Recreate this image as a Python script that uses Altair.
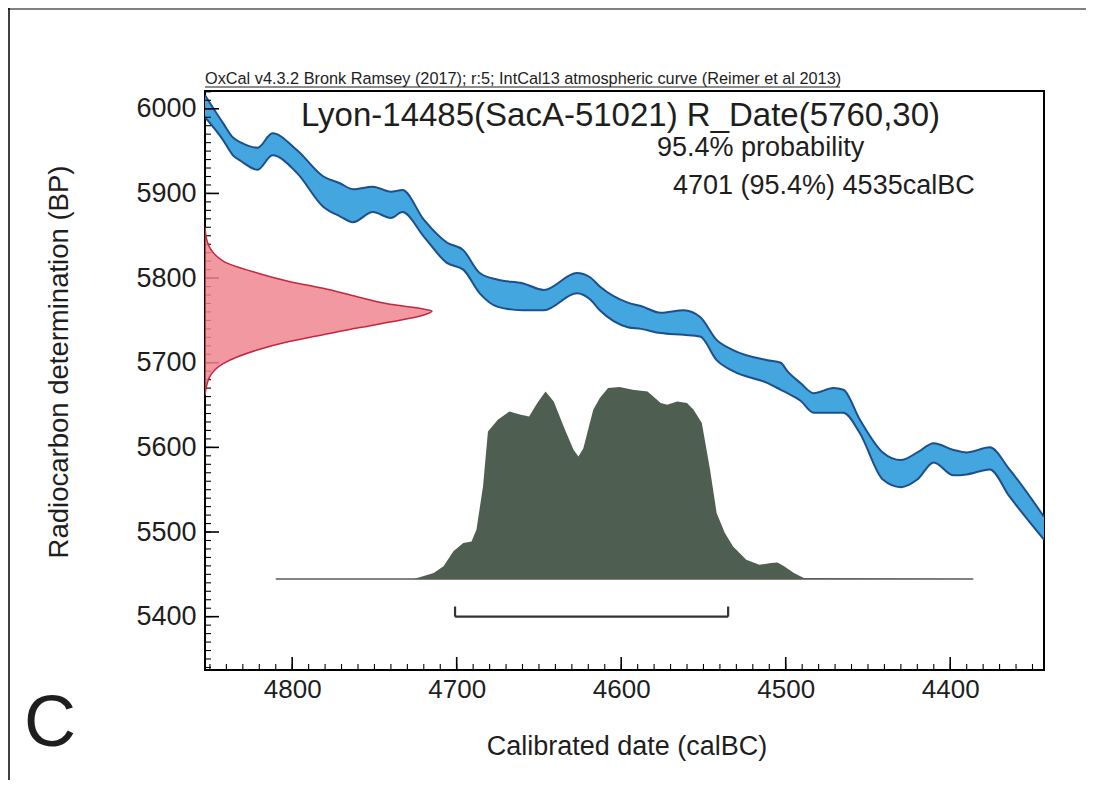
import altair as alt
import pandas as pd

# ---------------- data ----------------
# IntCal13 calibration band (calBC year, upper BP, lower BP)
curve_year = [4853, 4842, 4836, 4831, 4821, 4812, 4797, 4781, 4771, 4763, 4751, 4740, 4733, 4720,
              4706, 4696, 4686, 4675, 4660, 4647, 4627, 4619, 4613, 4596, 4588, 4576, 4562, 4552,
              4542, 4532, 4511, 4503, 4499, 4491, 4483, 4471, 4465, 4455, 4441, 4430, 4420, 4410,
              4398, 4390, 4376, 4364, 4343]
curve_upper = [6016, 5983, 5966, 5960, 5954, 5971, 5951, 5920, 5912, 5905, 5908, 5902, 5904, 5869,
               5842, 5833, 5806, 5798, 5794, 5786, 5806, 5801, 5790, 5771, 5767, 5759, 5762, 5754,
               5727, 5715, 5703, 5700, 5690, 5676, 5664, 5670, 5668, 5633, 5594, 5585, 5594, 5605,
               5597, 5594, 5600, 5574, 5518]
curve_lower = [5990, 5963, 5945, 5938, 5928, 5945, 5924, 5884, 5873, 5866, 5878, 5871, 5878, 5849,
               5818, 5810, 5782, 5766, 5762, 5762, 5782, 5775, 5762, 5742, 5740, 5735, 5733, 5731,
               5703, 5690, 5676, 5668, 5664, 5655, 5641, 5641, 5641, 5617, 5562, 5553, 5562, 5582,
               5567, 5568, 5574, 5542, 5491]

# Radiocarbon determination 5760 +/- 30 BP (relative density)
c14_bp = [5860, 5843, 5820, 5806, 5796, 5788, 5778, 5769, 5764, 5761, 5756, 5748, 5741, 5733,
          5725, 5715, 5699, 5683, 5662]
c14_p = [0.0, 0.01, 0.08, 0.23, 0.37, 0.52, 0.67, 0.815, 0.95, 1.0, 0.96, 0.815, 0.67, 0.52,
         0.37, 0.23, 0.08, 0.02, 0.0]

# Calibrated probability distribution (calBC year, relative density)
post_year = [4810, 4726, 4714, 4708, 4702, 4696, 4691, 4688, 4684, 4681, 4675, 4668, 4661, 4656,
             4651, 4646, 4641, 4635, 4629, 4626, 4623, 4617, 4613, 4608, 4601, 4593, 4584, 4576,
             4572, 4566, 4560, 4556, 4551, 4546, 4542, 4537, 4532, 4524, 4516, 4509, 4505, 4501,
             4495, 4489, 4386]
post_p = [0.0, 0.0, 0.031, 0.066, 0.144, 0.188, 0.196, 0.257, 0.482, 0.769, 0.830, 0.873, 0.856,
          0.847, 0.917, 0.977, 0.925, 0.795, 0.673, 0.639, 0.682, 0.882, 0.943, 0.995, 1.0, 0.986,
          0.977, 0.917, 0.908, 0.925, 0.917, 0.882, 0.8125, 0.569, 0.344, 0.240, 0.170, 0.100,
          0.074, 0.083, 0.086, 0.066, 0.031, 0.005, 0.0]

range_from = [4701]
range_to = [4535]

major_x = [4800, 4700, 4600, 4500, 4400]
minor_x = list(range(4850, 4340, -10))
major_y = [5400, 5500, 5600, 5700, 5800, 5900, 6000]
minor_y = list(range(5340, 6021, 10))

header = "OxCal v4.3.2 Bronk Ramsey (2017); r:5; IntCal13 atmospheric curve (Reimer et al 2013)"
title = "Lyon-14485(SacA-51021) R_Date(5760,30)"
line2 = "95.4% probability"
line3 = "4701 (95.4%) 4535calBC"
x_title = "Calibrated date (calBC)"
y_title = "Radiocarbon determination (BP)"
panel = "C"

# ---------------- layout / style ----------------
W, H = 839, 579
X_LEFT, X_RIGHT = 4853, 4343
Y_BOTTOM, Y_TOP = 5337, 6021
RED_SCALE = 138.0      # years of width for relative density 1
POST_BASE = 5444.5     # BP level of the calibrated distribution baseline
POST_SCALE = 226.7     # BP of height for relative density 1
FONT = "Liberation Sans"
BLUE_FILL = "#43a6df"
BLUE_EDGE = "#1c4f8c"
RED_FILL = "#ef8690"
RED_EDGE = "#c4283f"
POST_FILL = "#4e5e51"
TXT = "#1e1e1e"

xs = alt.Scale(domain=[X_RIGHT, X_LEFT], reverse=True, nice=False, zero=False)
ys = alt.Scale(domain=[Y_BOTTOM, Y_TOP], nice=False, zero=False)

x_axis = alt.Axis(values=major_x, format="d", labelFontSize=26, labelFont=FONT, labelColor=TXT,
                  ticks=False, tickSize=0, domain=False, grid=False, labelPadding=6, title=None,
                  labelFlush=False)
y_axis = alt.Axis(values=major_y, format="d", labelFontSize=27, labelFont=FONT, labelColor=TXT,
                  ticks=False, tickSize=0, domain=False, grid=False, labelPadding=9, title=None,
                  labelFlush=False)


def X(field):
    return alt.X(field, scale=xs, axis=x_axis)


def Y(field):
    return alt.Y(field, scale=ys, axis=y_axis)


curve = pd.DataFrame({"year": curve_year, "upper": curve_upper, "lower": curve_lower})
c14 = pd.DataFrame({"bp": c14_bp, "p": c14_p})
post = pd.DataFrame({"year": post_year, "p": post_p})
rng = pd.DataFrame({"start": range_from, "end": range_to})
caps = pd.DataFrame({"year": range_from + range_to})
one = pd.DataFrame({"k": [0]})

band = alt.Chart(curve).mark_area(color=BLUE_FILL, clip=True, interpolate="monotone").encode(
    x=X("year:Q"), y=Y("upper:Q"), y2="lower:Q")
band_up = alt.Chart(curve).mark_line(color=BLUE_EDGE, strokeWidth=2, clip=True,
                                     interpolate="monotone").encode(x=X("year:Q"), y=Y("upper:Q"))
band_lo = alt.Chart(curve).mark_line(color=BLUE_EDGE, strokeWidth=2, clip=True,
                                     interpolate="monotone").encode(x=X("year:Q"), y=Y("lower:Q"))

post_area = alt.Chart(post).transform_calculate(
    ytop=f"{POST_BASE} + datum.p * {POST_SCALE}", ybase=f"{POST_BASE}"
).mark_area(color=POST_FILL, clip=True).encode(x=X("year:Q"), y=Y("ytop:Q"), y2="ybase:Q")
post_line = alt.Chart(post).transform_calculate(ybase=f"{POST_BASE}").mark_line(
    color="#5a5a5a", strokeWidth=1.5, clip=True).encode(x=X("year:Q"), y=Y("ybase:Q"))

bracket = alt.Chart(rng).transform_calculate(yb="5400").mark_rule(
    color="#333333", strokeWidth=2.2).encode(x=X("start:Q"), x2="end:Q", y=Y("yb:Q"))
bracket_caps = alt.Chart(caps).transform_calculate(yb="5400", yt="5412").mark_rule(
    color="#333333", strokeWidth=2.2).encode(x=X("year:Q"), y=Y("yb:Q"), y2="yt:Q")

tx_major = alt.Chart(pd.DataFrame({"year": major_x})).mark_rule(color="black", strokeWidth=1.6).encode(
    x=X("year:Q"), y=alt.value(H), y2=alt.value(H - 13))
tx_minor = alt.Chart(pd.DataFrame({"year": minor_x})).mark_rule(color="black", strokeWidth=1.1).encode(
    x=X("year:Q"), y=alt.value(H), y2=alt.value(H - 6))
ty_major = alt.Chart(pd.DataFrame({"bp": major_y})).mark_rule(color="black", strokeWidth=1.6).encode(
    y=Y("bp:Q"), x=alt.value(0), x2=alt.value(14))
ty_minor = alt.Chart(pd.DataFrame({"bp": minor_y})).mark_rule(color="black", strokeWidth=1.1).encode(
    y=Y("bp:Q"), x=alt.value(0), x2=alt.value(6))

red = alt.Chart(c14).transform_calculate(
    xpos=f"{X_LEFT} - datum.p * {RED_SCALE}", xbase=f"{X_LEFT}"
).mark_area(orient="horizontal", fill=RED_FILL, fillOpacity=0.85, stroke=RED_EDGE,
            strokeWidth=1.5, clip=True, interpolate="monotone").encode(
    y=Y("bp:Q"), x=X("xpos:Q"), x2="xbase:Q")


def label(txt, x, y, size, align="left", angle=0, baseline="alphabetic"):
    return alt.Chart(pd.DataFrame({"t": [txt]})).mark_text(
        font=FONT, fontSize=size, color=TXT, align=align, baseline=baseline, angle=angle
    ).encode(text="t:N", x=alt.value(x), y=alt.value(y))


texts = [
    label(header, 0, -7, 16.3),
    label(title, 735, 35, 33, align="right"),
    label(line2, 452, 65, 27),
    label(line3, 468, 103, 27),
    label(x_title, 422, 664, 27, align="center"),
    label(y_title, -145, 271, 27.5, align="center", angle=270, baseline="middle"),
    label(panel, -155, 655, 72, align="center"),
]

underline = alt.Chart(one).mark_rule(color=TXT, strokeWidth=1).encode(
    x=alt.value(0), x2=alt.value(635), y=alt.value(-4))
border_left = alt.Chart(one).mark_rule(color="black", strokeWidth=1.5).encode(
    x=alt.value(-196), y=alt.value(-83), y2=alt.value(H + 110))
border_top = alt.Chart(one).mark_rule(color="black", strokeWidth=1.0).encode(
    x=alt.value(-197), x2=alt.value(W + 42), y=alt.value(-82))

chart = alt.layer(
    band, band_up, band_lo, post_area, post_line, bracket, bracket_caps,
    tx_major, tx_minor, ty_major, ty_minor, red, *texts, underline, border_left, border_top
).properties(
    width=W, height=H,
    padding={"left": 197, "top": 83, "right": 42, "bottom": 110},
    autosize=alt.AutoSizeParams(type="none"),
    background="white",
).configure_view(stroke="black", strokeWidth=2)

chart.save("out.html", embed_options={"renderer": "svg", "actions": False})
